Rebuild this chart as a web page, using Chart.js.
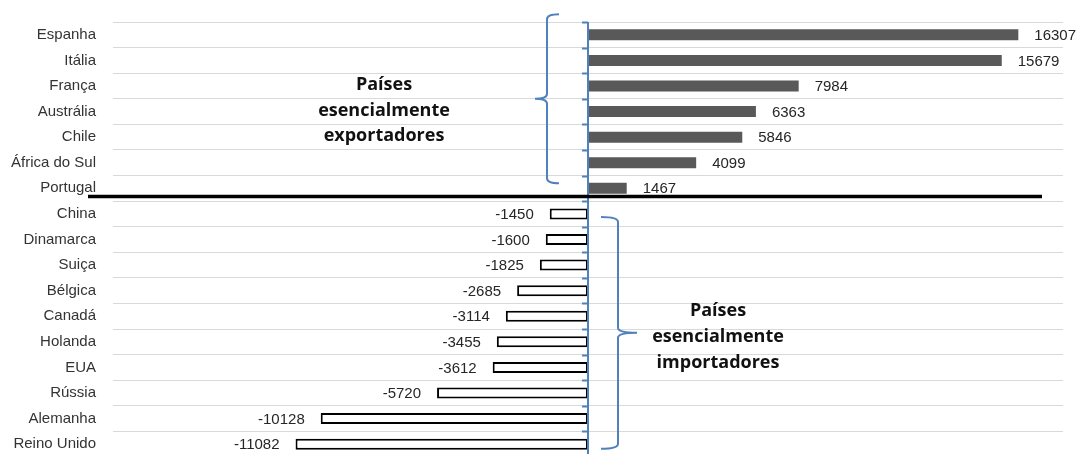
<!DOCTYPE html>
<html>
<head>
<meta charset="utf-8">
<title>Saldo comercial</title>
<script src="https://cdn.jsdelivr.net/npm/chart.js@4.4.1/dist/chart.umd.min.js"></script>
<style>
  html, body { margin: 0; padding: 0; background: #fff; overflow: hidden; }
  #wrap { width: 1076px; height: 454px; overflow: hidden; }
</style>
</head>
<body>
<div id="wrap"><canvas id="saldo-chart" width="1076" height="460"></canvas></div>
<script>
const countries = ['Espanha', 'Itália', 'França', 'Austrália', 'Chile', 'África do Sul', 'Portugal',
    'China', 'Dinamarca', 'Suiça', 'Bélgica', 'Canadá', 'Holanda', 'EUA', 'Rússia', 'Alemanha', 'Reino Unido'];
const balance = [16307, 15679, 7984, 6363, 5846, 4099, 1467,
    -1450, -1600, -1825, -2685, -3114, -3455, -3612, -5720, -10128, -11082];
const exportersText = ['Países', 'esencialmente', 'exportadores'];
const importersText = ['Países', 'esencialmente', 'importadores'];

const LABEL_FONT = '15px "Liberation Sans", Arial, sans-serif';
const NOTE_FONT = 'bold 18px "Open Sans", "Noto Sans", sans-serif';
const AXIS_BLUE = '#4f81bd';

// curly brace; dir -1 = "{" (tip to the left), +1 = "}" (tip to the right)
function drawBrace(ctx, spine, top, bottom, dir, hook, tip) {
    const mid = (top + bottom) / 2;
    const r = 5;
    ctx.beginPath();
    ctx.moveTo(spine - dir * hook, top);
    ctx.quadraticCurveTo(spine, top, spine, top + r);
    ctx.lineTo(spine, mid - r);
    ctx.quadraticCurveTo(spine, mid, spine + dir * tip, mid);
    ctx.moveTo(spine + dir * tip, mid);
    ctx.quadraticCurveTo(spine, mid, spine, mid + r);
    ctx.lineTo(spine, bottom - r);
    ctx.quadraticCurveTo(spine, bottom, spine - dir * hook, bottom);
    ctx.stroke();
}

const decorations = {
    id: 'decorations',
    afterDatasetsDraw(chart) {
        const ctx = chart.ctx;
        const xs = chart.scales.x;
        const ys = chart.scales.y;
        const area = chart.chartArea;
        const zero = xs.getPixelForValue(0);
        const rowH = ys.getPixelForValue(1) - ys.getPixelForValue(0);

        ctx.save();
        // value labels next to each bar
        ctx.font = LABEL_FONT;
        ctx.fillStyle = '#262626';
        ctx.textBaseline = 'middle';
        chart.getDatasetMeta(0).data.forEach((bar, i) => {
            const v = balance[i];
            ctx.textAlign = v >= 0 ? 'left' : 'right';
            ctx.fillText(String(v), bar.x + (v >= 0 ? 16 : -16), bar.y + 1);
        });

        // zero axis with tick marks on category boundaries
        ctx.strokeStyle = AXIS_BLUE;
        ctx.lineWidth = 2;
        ctx.beginPath();
        ctx.moveTo(zero, area.top);
        ctx.lineTo(zero, area.bottom);
        for (let i = 0; i <= countries.length; i++) {
            const by = Math.round(area.top + i * rowH) + 0.5;
            ctx.moveTo(zero - 6, by);
            ctx.lineTo(zero, by);
        }
        ctx.stroke();

        // braces grouping exporters and importers
        ctx.lineWidth = 2;
        drawBrace(ctx, zero - 41, ys.getPixelForValue(0) - 0.8 * rowH,
            ys.getPixelForValue(6) - 0.2 * rowH, -1, 12, 12);
        drawBrace(ctx, zero + 30, ys.getPixelForValue(7) + 3,
            ys.getPixelForValue(16) + 4.5, 1, 17, 19);

        // group notes
        ctx.font = NOTE_FONT;
        ctx.fillStyle = '#111';
        ctx.textAlign = 'center';
        exportersText.forEach((t, i) => {
            ctx.fillText(t, zero - 204, ys.getPixelForValue(2 + i) - 1);
        });
        importersText.forEach((t, i) => {
            ctx.fillText(t, zero + 130, ys.getPixelForValue(11 + i) - 5);
        });
        ctx.restore();
    },
    afterDraw(chart) {
        // heavy rule between exporters and importers
        const ctx = chart.ctx;
        const ys = chart.scales.y;
        const area = chart.chartArea;
        const yb = (ys.getPixelForValue(6) + ys.getPixelForValue(7)) / 2 - 4.5;
        ctx.save();
        ctx.strokeStyle = '#000';
        ctx.lineWidth = 3.5;
        ctx.beginPath();
        ctx.moveTo(area.left - 25, yb);
        ctx.lineTo(area.right - 21, yb);
        ctx.stroke();
        ctx.restore();
    }
};

new Chart(document.getElementById('saldo-chart'), {
    type: 'bar',
    data: {
        labels: countries,
        datasets: [{
            data: balance,
            backgroundColor: ctx => ctx.raw >= 0 ? '#595959' : '#ffffff',
            borderColor: ctx => ctx.raw >= 0 ? '#595959' : '#000000',
            borderWidth: ctx => ctx.raw >= 0 ? 0 : 2,
            borderSkipped: false,
            barPercentage: 0.43,
            categoryPercentage: 1
        }]
    },
    options: {
        indexAxis: 'y',
        responsive: false,
        animation: false,
        layout: { padding: { top: 22, right: 13, bottom: 3, left: 0 } },
        plugins: {
            legend: { display: false },
            tooltip: { enabled: false }
        },
        scales: {
            x: {
                display: false,
                min: -18000,
                max: 18000
            },
            y: {
                grid: { color: '#d9d9d9', drawTicks: false, offset: true },
                border: { display: false },
                ticks: {
                    autoSkip: false,
                    padding: 17,
                    color: '#333',
                    font: { family: '"Liberation Sans", Arial, sans-serif', size: 15 }
                },
                afterFit(scale) {
                    scale.width = 113;
                    scale.paddingTop = 0;
                    scale.paddingBottom = 0;
                }
            }
        }
    },
    plugins: [decorations]
});
</script>
</body>
</html>
